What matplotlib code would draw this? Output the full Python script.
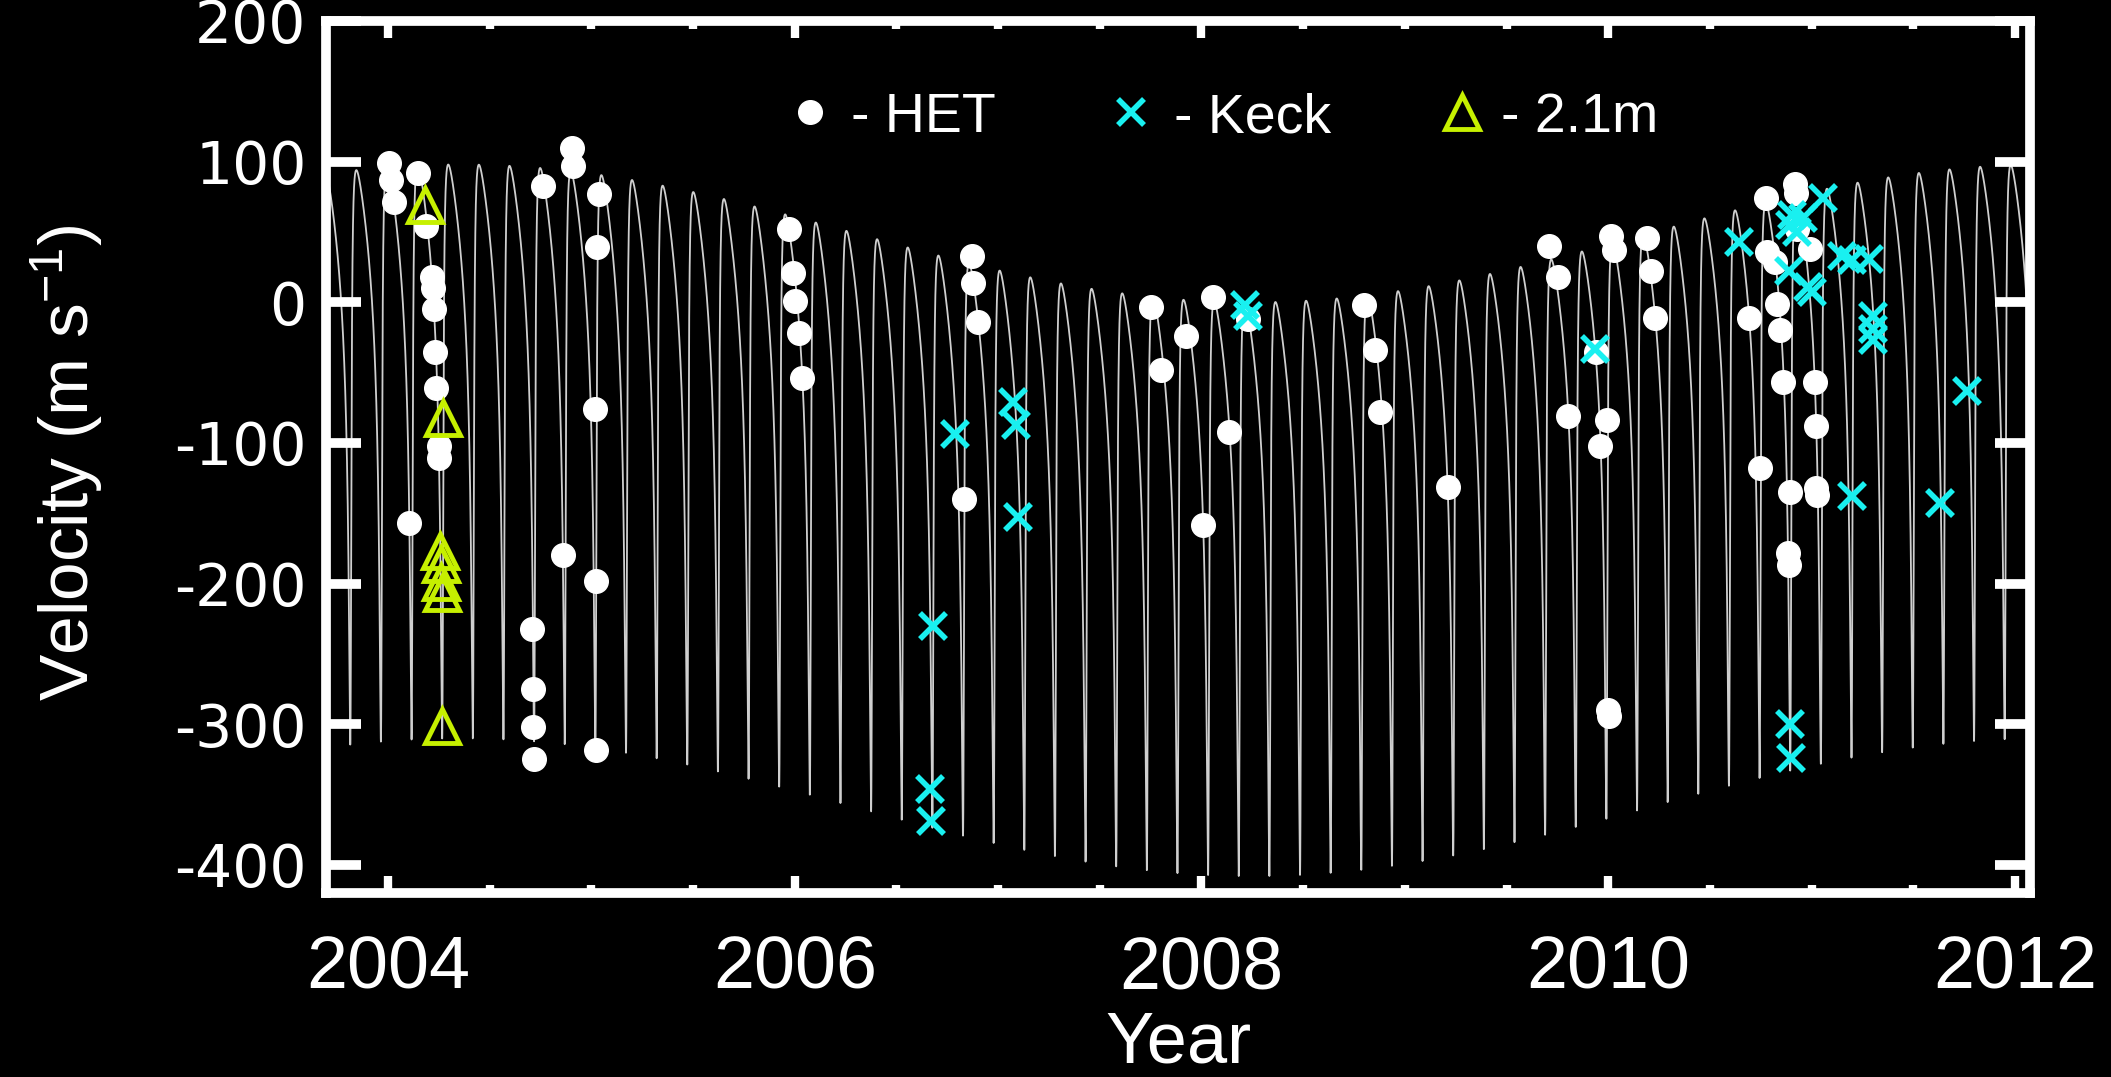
import numpy as np
import matplotlib
matplotlib.use("Agg")
import matplotlib.pyplot as plt
from matplotlib.ticker import MultipleLocator

plt.rcParams["axes.unicode_minus"] = False
plt.rcParams["mathtext.default"] = "regular"

# ── Radial velocities (year, m/s) ─────────────────────────────────────────────
het_year = [2004.006, 2004.017, 2004.029, 2004.105, 2004.149, 2004.188, 2004.215,
            2004.219, 2004.226, 2004.230, 2004.236, 2004.250, 2004.253,
            2004.709, 2004.713, 2004.715, 2004.717, 2004.764, 2004.862,
            2004.906, 2004.910, 2005.020, 2005.022, 2005.024, 2005.030, 2005.037,
            2005.970, 2005.993, 2006.003, 2006.020, 2006.036,
            2006.833, 2006.870, 2006.877, 2006.900,
            2007.750, 2007.800, 2007.926, 2008.007, 2008.058, 2008.135, 2008.227,
            2008.800, 2008.852, 2008.880, 2009.210,
            2009.708, 2009.752, 2009.800, 2009.940, 2009.960, 2009.994,
            2010.000, 2010.002, 2010.016, 2010.027,
            2010.190, 2010.210, 2010.230,
            2010.690, 2010.745, 2010.778, 2010.782, 2010.820, 2010.830, 2010.843,
            2010.860, 2010.886, 2010.888, 2010.895, 2010.920, 2010.922, 2010.930,
            2010.990, 2011.015, 2011.020, 2011.022, 2011.025]
het_vel = [99, 87, 71, -157, 92, 54, 18,
           10, -5, -35, -61, -102, -111,
           -232, -275, -302, -325, 83, -180,
           110, 97, -76, -198, -318, 39, 77,
           52, 21, 1, -22, -54,
           -140, 33, 14, -14,
           -3, -48, -24, -158, 4, -92, -12,
           -2, -34, -78, -131,
           40, 18, -81, -35, -102, -84,
           -290, -294, 47, 37,
           46, 22, -11,
           -11, -118, 74, 36, 29, -1, -20,
           -57, -178, -187, -135, 84, 78, 52,
           38, -57, -88, -132, -137]

keck_year = [2006.679, 2006.666, 2006.668, 2006.790, 2007.075, 2007.088, 2007.100,
             2008.215, 2008.228, 2009.935, 2010.645, 2010.890, 2010.895, 2010.903,
             2010.930, 2010.960, 2010.980, 2011.000, 2011.057, 2011.150, 2011.200,
             2011.280, 2011.300, 2011.302, 2011.304, 2011.197, 2011.633, 2011.766,
             2010.895, 2010.897]
keck_vel = [-230, -346, -369, -94, -71, -87, -153,
            -2, -10, -33, 43, 22, 55, 62,
            50, 60, 11, 7, 74, 33, 30,
            31, -10, -19, -27, -138, -143, -63,
            -300, -324]

tel21_year = [2004.182, 2004.272, 2004.258, 2004.260, 2004.262, 2004.265, 2004.266]
tel21_vel = [69, -82, -177, -186, -199, -207, -301]

# ── Orbit model parameters ───────────────────────────────────────────────────
P_IN = 0.15065        # yr  (~55 d)
T_PERI = 2004.2686    # yr
ECC = 0.68
OMEGA_DEG = 218.0
K_IN = 204.0          # m/s
V_OFF = -155.0        # m/s
A_OUT = 49.0          # long-period term, m/s
P_OUT = 7.8           # yr
T_OUT = 2004.35       # yr of its maximum

XMIN, XMAX = 2003.695, 2012.074
YMIN, YMAX = -420, 200


def model_rv(t):
    M = 2 * np.pi * (t - T_PERI) / P_IN
    M = np.mod(M + np.pi, 2 * np.pi) - np.pi
    E = M + 0.85 * ECC * np.sign(np.sin(M))
    for _ in range(40):
        E = E - (E - ECC * np.sin(E) - M) / (1 - ECC * np.cos(E))
    nu = 2 * np.arctan2(np.sqrt(1 + ECC) * np.sin(E / 2),
                        np.sqrt(1 - ECC) * np.cos(E / 2))
    w = np.radians(OMEGA_DEG)
    inner = K_IN * np.cos(nu + w)
    outer = A_OUT * np.cos(2 * np.pi * (t - T_OUT) / P_OUT)
    return inner + outer + V_OFF


W, H = 2111, 1077
fig = plt.figure(figsize=(W / 100, H / 100), dpi=100)
fig.patch.set_facecolor("black")
ax = fig.add_axes([326 / W, 1 - 893 / H, (2030 - 326) / W, (893 - 21) / H])
ax.set_facecolor("black")

t_mod = np.linspace(XMIN, XMAX, 300000)
ax.plot(t_mod, model_rv(t_mod), color="#cfcfcf", lw=1.3, zorder=1)

ax.plot(het_year, het_vel, "o", color="white", ms=17, mec="white", zorder=3)
ax.plot(keck_year, keck_vel, "x", color="#19f0f0", ms=19, mew=4, zorder=4)
ax.plot(tel21_year, tel21_vel, "^", mfc="none", mec="#c6f000", ms=24, mew=3.5,
        zorder=5)

# legend row drawn the way the original does it
ly = 0.896
ax.plot([0.2843], [ly], "o", color="white", ms=17, transform=ax.transAxes)
ax.plot([0.4724], [ly], "x", color="#19f0f0", ms=19, mew=4, transform=ax.transAxes)
ax.plot([0.6666], [ly], "^", mfc="none", mec="#c6f000", ms=24, mew=3.5,
        transform=ax.transAxes)
for x, s in [(0.308, "- HET"), (0.4977, "- Keck"), (0.6897, "- 2.1m")]:
    ax.text(x, 0.8727, s, transform=ax.transAxes, color="white", fontsize=40,
            family="Liberation Sans", va="baseline", ha="left")

ax.set_xlim(XMIN, XMAX)
ax.set_ylim(YMIN, YMAX)
ax.xaxis.set_major_locator(MultipleLocator(2))
ax.xaxis.set_minor_locator(MultipleLocator(0.5))
ax.yaxis.set_major_locator(MultipleLocator(100))

for sp in ax.spines.values():
    sp.set_color("white")
    sp.set_linewidth(7)

ax.tick_params(axis="x", which="major", direction="in", length=12, width=6,
               color="white", top=True, bottom=True, pad=30,
               labelsize=53, labelcolor="white")
ax.tick_params(axis="x", which="minor", direction="in", length=6, width=6,
               color="white", top=True, bottom=True)
ax.tick_params(axis="y", which="major", direction="in", length=25, width=7,
               color="white", left=True, right=True, pad=14,
               labelsize=42, labelcolor="white")
for lab in ax.get_xticklabels():
    lab.set_family("Liberation Sans")
for lab in ax.get_yticklabels():
    lab.set_family("DejaVu Sans")

ax.set_xlabel("Year", color="white", fontsize=52, family="Liberation Sans")
ax.xaxis.set_label_coords(0.5, -0.194)
ax.xaxis.label.set_va("baseline")
ax.set_ylabel("Velocity (m s$^{-1}$)", color="white", fontsize=50,
              family="Liberation Sans")
ax.yaxis.set_label_coords(-0.152, 0.493)
ax.yaxis.label.set_va("center")

fig.savefig("out.png", dpi=100, facecolor="black")
